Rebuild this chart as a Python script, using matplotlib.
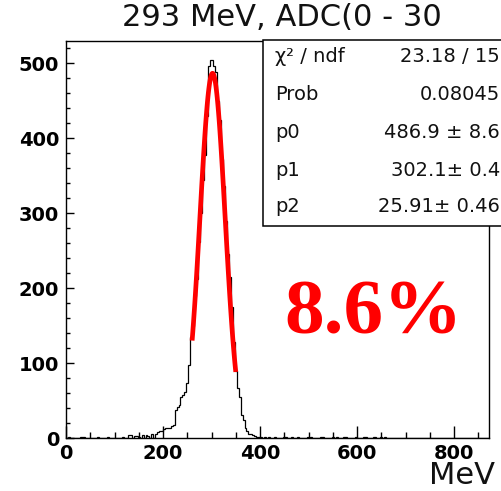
import numpy as np
import matplotlib
matplotlib.use("Agg")
import matplotlib.pyplot as plt
from matplotlib.patches import Rectangle

# ---------------- data ----------------
bin_width = 4.0            # MeV
x_max = 872.0
main_start = 184.0         # MeV, first bin of main peak region
main_counts = [6, 8, 10, 10, 12, 13, 13, 14, 16, 17,
               38, 41, 44, 55, 58, 62, 74, 98, 135, 150,
               190, 212, 262, 300, 345, 378, 430, 497, 505, 505,
               497, 488, 450, 425, 372, 336, 290, 245, 215, 175,
               128, 89, 67, 55, 31, 24, 14, 10, 6, 5,
               4, 3, 2, 2, 1]
noise_mev = [6, 30, 34, 38, 66, 86, 118, 130, 134, 142, 146, 150, 158, 166, 170, 178,
             410, 418, 430, 450, 454, 466, 478, 498, 506, 526, 530, 550, 558,
             574, 578, 598, 614, 618, 634, 638, 650, 658]
noise_counts = [1, 2, 2, 1, 1, 1, 1, 4, 4, 3, 3, 2, 4, 4, 3, 5,
                1, 2, 1, 2, 1, 1, 2, 1, 2, 1, 1, 2, 1,
                1, 2, 1, 1, 2, 1, 2, 1, 1]

fit_p0, fit_p1, fit_p2 = 486.9, 302.1, 25.91
fit_range = (260.0, 350.0)

title = "293 MeV, ADC(0 - 30"
stat_names = ["χ² / ndf", "Prob", "p0", "p1", "p2"]
stat_values = ["23.18 / 15", "0.08045", "486.9 ± 8.6", "302.1± 0.4", "25.91± 0.46"]
resolution_label = "8.6%"
x_label = "MeV"

# ---------------- build histogram ----------------
edges = np.arange(0.0, x_max + bin_width / 2, bin_width)
counts = np.zeros(len(edges) - 1)
i0 = int(round(main_start / bin_width))
counts[i0:i0 + len(main_counts)] = main_counts
for m, c in zip(noise_mev, noise_counts):
    counts[int(m // bin_width)] = c

W, H = 502, 491
fig = plt.figure(figsize=(W / 100, H / 100), dpi=100)
fig.patch.set_facecolor("white")

def fx(px):
    return px / W

def fy(py):
    return 1 - py / H

ax_l, ax_r, ax_t, ax_b = 66, 489, 41, 438
ax = fig.add_axes([fx(ax_l), fy(ax_b), fx(ax_r) - fx(ax_l), fy(ax_t) - fy(ax_b)])

ax.stairs(counts, edges, color="black", linewidth=0.9, baseline=0, zorder=3)

xf = np.linspace(fit_range[0], fit_range[1], 100)
yf = fit_p0 * np.exp(-0.5 * ((xf - fit_p1) / fit_p2) ** 2)
ax.plot(xf, yf, color="#ff0000", linewidth=3.4, solid_capstyle="butt", zorder=4)

ax.set_xlim(0, x_max)
ax.set_ylim(0, 530)

ax.set_xticks([0, 200, 400, 600, 800])
ax.set_xticks(np.arange(0, 871, 50), minor=True)
ax.set_yticks([0, 100, 200, 300, 400, 500])
ax.set_yticks(np.arange(0, 530, 20), minor=True)

ax.tick_params(axis="x", which="major", direction="in", length=8.6, width=1.0, pad=4)
ax.tick_params(axis="x", which="minor", direction="in", length=4.3, width=1.0)
ax.tick_params(axis="y", which="major", direction="in", length=6, width=1.0, pad=5)
ax.tick_params(axis="y", which="minor", direction="in", length=3, width=1.0)

for lab in ax.get_xticklabels() + ax.get_yticklabels():
    lab.set_fontfamily("DejaVu Sans")
    lab.set_fontweight("bold")
    lab.set_fontsize(14)

for s in ax.spines.values():
    s.set_linewidth(1.0)
    s.set_color("black")

# title
fig.text(fx(282), fy(18), title, ha="center", va="center",
         fontsize=22, family="DejaVu Sans", color="#111111")

# stats box
box = Rectangle((fx(263), fy(226)), fx(520) - fx(263), fy(40) - fy(226),
                transform=fig.transFigure, facecolor="white", edgecolor="black",
                linewidth=1.1, zorder=10, clip_on=False)
fig.patches.append(box)
rows_y = [57, 95, 132, 170, 207]
for name, val, ry in zip(stat_names, stat_values, rows_y):
    fig.text(fx(275), fy(ry), name, ha="left", va="center", fontsize=14,
             family="DejaVu Sans", color="#111111", zorder=11)
    fig.text(fx(500), fy(ry), val, ha="right", va="center", fontsize=14,
             family="DejaVu Sans", color="#111111", zorder=11)

# resolution label
fig.text(fx(374), fy(333), resolution_label, ha="center", va="baseline",
         fontsize=57, family="Liberation Serif", fontweight="bold", color="#ff0000")

# x axis label
fig.text(fx(495), fy(490), x_label, ha="right", va="bottom",
         fontsize=22, family="DejaVu Sans", color="#111111")

fig.savefig("out.png", dpi=100)
